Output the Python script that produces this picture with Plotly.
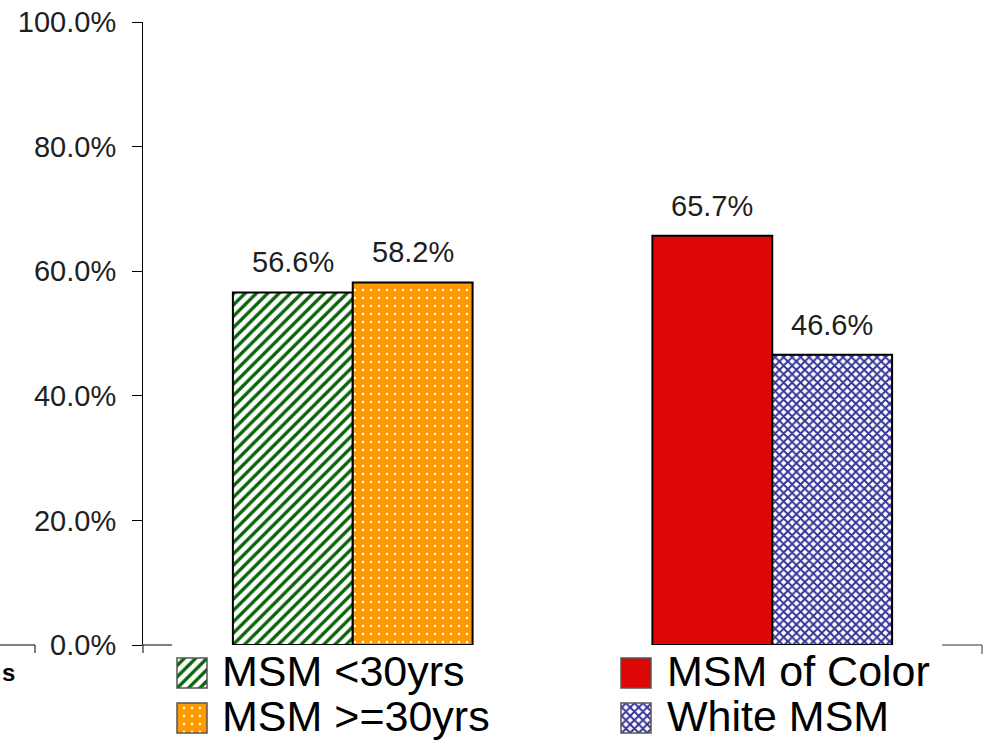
import plotly.graph_objects as go

# ---------------- data ----------------
categories = ["Age", "Race/Ethnicity"]
series_names = ["MSM <30yrs", "MSM >=30yrs", "MSM of Color", "White MSM"]
series_category = ["Age", "Age", "Race/Ethnicity", "Race/Ethnicity"]
series_group = ["a", "b", "a", "b"]
series_values = [56.6, 58.2, 65.7, 46.6]
y_ticks = [0, 20, 40, 60, 80, 100]
y_tick_labels = ["0.0%", "20.0%", "40.0%", "60.0%", "80.0%", "100.0%"]
legend_col = [0, 0, 1, 1]
legend_row = [0, 1, 0, 1]

# ---------------- styles ----------------
FONT = "Liberation Sans, Arial, sans-serif"
TXT = "#1e1e1e"
styles = [
    dict(color="white", pattern=dict(shape="/", fgcolor="#0a640a", bgcolor="white",
                                     fgopacity=1, size=8, solidity=0.42)),
    dict(color="#FF9900", pattern=dict(shape=".", fgcolor="white", bgcolor="#FF9900",
                                       fgopacity=1, size=8, solidity=0.08)),
    dict(color="#DD0806"),
    dict(color="white", pattern=dict(shape="x", fgcolor="#333399", bgcolor="white",
                                     fgopacity=1, size=6, solidity=0.55)),
]

W, H = 990, 742
L, R, T, B = 143, 8, 22, 0
PW, PH = W - L - R, H - T - B


def px(x):
    return (x - L) / PW


def py(y):
    return (H - B - y) / PH


BARGAP = 0.4286
ROW_STEP = 45  # legend row spacing in pixels
fig = go.Figure()

for i, nm in enumerate(series_names):
    st = styles[i]
    fig.add_trace(go.Bar(
        x=[series_category[i]], y=[series_values[i]], name=nm,
        offsetgroup=series_group[i], showlegend=False,
        marker=dict(color=st["color"], pattern=st.get("pattern"),
                    line=dict(color="#000000", width=2)),
        xaxis="x", yaxis="y",
    ))

# custom legend swatches on an auxiliary axis pair
unit = 444.0
sw = 30.0 / unit
sh = 30.0 / ROW_STEP
for i, nm in enumerate(series_names):
    st = styles[i]
    fig.add_trace(go.Bar(
        x=[legend_col[i]], y=[sh], base=[legend_row[i] - sh / 2], name=nm,
        width=[sw], offset=[-sw / 2], showlegend=False, hoverinfo="skip",
        marker=dict(color=st["color"], pattern=st.get("pattern"),
                    line=dict(color="#555555", width=1.5)),
        xaxis="x2", yaxis="y2",
    ))

annotations = []
cat_px = PW / len(categories)
off = cat_px * (1 - BARGAP) / 4
for i in range(len(series_names)):
    sgn = -1 if series_group[i] == "a" else 1
    annotations.append(dict(
        x=series_category[i], y=series_values[i], xref="x", yref="y",
        xshift=sgn * off, yshift=30, yanchor="middle", showarrow=False,
        text=f"{series_values[i]:.1f}%", font=dict(family=FONT, size=29, color=TXT),
    ))
    annotations.append(dict(
        x=px(220 + legend_col[i] * 445), y=py(671 + legend_row[i] * ROW_STEP),
        xref="paper", yref="paper", xanchor="left", yanchor="middle",
        showarrow=False, text=series_names[i], font=dict(family=FONT, size=43, color="#000000"),
    ))

annotations.append(dict(
    x=px(0), y=py(672), xref="paper", yref="paper", xanchor="left", yanchor="middle",
    showarrow=False, text="<b>s</b>", font=dict(family=FONT, size=24, color="#000000"),
))


def seg(x0, y0, x1, y1, color="#000000"):
    return dict(type="line", xref="paper", yref="paper",
                x0=px(x0), y0=py(y0), x1=px(x1), y1=py(y1),
                line=dict(color=color, width=1))


shapes = [
    seg(0, 645, 35, 645), seg(35, 645, 35, 653),
    seg(143, 645, 172, 645), seg(143, 645, 143, 653),
    seg(942, 645, 982, 645, "#333333"), seg(982, 645, 982, 654, "#333333"),
]

fig.update_layout(
    width=W, height=H, autosize=False,
    margin=dict(l=L, r=R, t=T, b=B, pad=0, autoexpand=False),
    paper_bgcolor="white", plot_bgcolor="white",
    barmode="group", bargap=BARGAP, bargroupgap=0,
    showlegend=False, hovermode=False,
    xaxis=dict(domain=[0, 1], categoryorder="array", categoryarray=categories,
               showline=False, showticklabels=False, ticks="", showgrid=False, zeroline=False),
    yaxis=dict(domain=[py(645), 1], range=[0, 100], tickmode="array",
               tickvals=y_ticks, ticktext=y_tick_labels,
               showline=True, linecolor="#000000", linewidth=1,
               ticks="outside", ticklen=10, tickcolor="#000000", tickwidth=1,
               showgrid=False, zeroline=False, ticklabelstandoff=10,
               tickfont=dict(family=FONT, size=29, color=TXT)),
    xaxis2=dict(domain=[px(172), px(656)], range=[-(192 - 172) / unit, 1 + (656 - 636) / unit],
                anchor="y2", visible=False),
    yaxis2=dict(domain=[0, py(648)],
                range=[(742 - 673) / ROW_STEP, -(673 - 648) / ROW_STEP],
                anchor="x2", visible=False),
    annotations=annotations,
    shapes=shapes,
)

fig.write_html("out.html",
               config={"responsive": False, "displayModeBar": False, "staticPlot": True},
               post_script="document.body.style.margin='0';document.body.style.overflow='hidden';")
